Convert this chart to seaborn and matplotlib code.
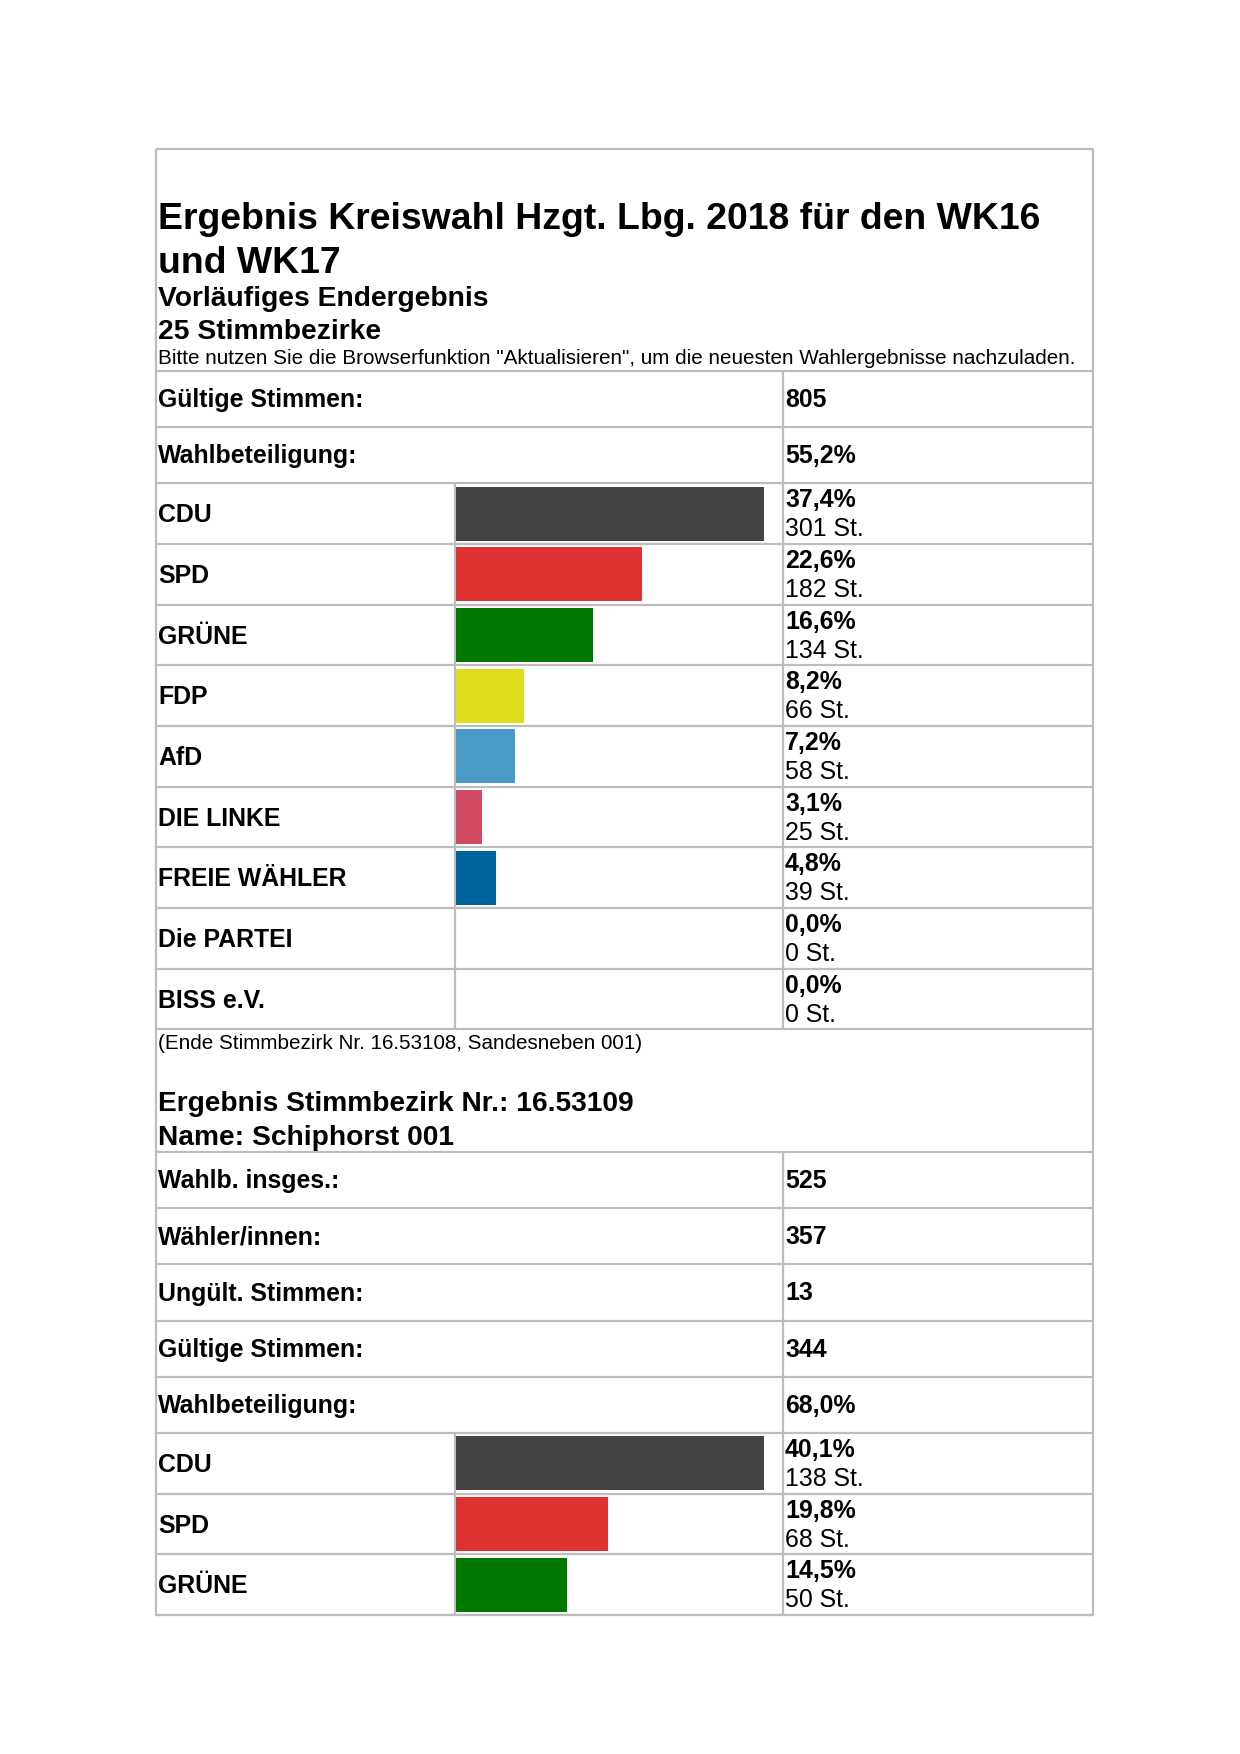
import matplotlib
matplotlib.use("Agg")
import matplotlib.pyplot as plt
import seaborn as sns
import pandas as pd

# ---------------- data ----------------
title_lines = ["Ergebnis Kreiswahl Hzgt. Lbg. 2018 für den WK16", "und WK17"]
subtitle_lines = ["Vorläufiges Endergebnis", "25 Stimmbezirke"]
note = 'Bitte nutzen Sie die Browserfunktion "Aktualisieren", um die neuesten Wahlergebnisse nachzuladen.'

info1_labels = ["Gültige Stimmen:", "Wahlbeteiligung:"]
info1_values = ["805", "55,2%"]
parties1 = ["CDU", "SPD", "GRÜNE", "FDP", "AfD", "DIE LINKE", "FREIE WÄHLER", "Die PARTEI", "BISS e.V."]
pct1 = [37.4, 22.6, 16.6, 8.2, 7.2, 3.1, 4.8, 0.0, 0.0]
votes1 = [301, 182, 134, 66, 58, 25, 39, 0, 0]

footnote = "(Ende Stimmbezirk Nr. 16.53108, Sandesneben 001)"
section2_lines = ["Ergebnis Stimmbezirk Nr.: 16.53109", "Name: Schiphorst 001"]
info2_labels = ["Wahlb. insges.:", "Wähler/innen:", "Ungült. Stimmen:", "Gültige Stimmen:", "Wahlbeteiligung:"]
info2_values = ["525", "357", "13", "344", "68,0%"]
parties2 = ["CDU", "SPD", "GRÜNE"]
pct2 = [40.1, 19.8, 14.5]
votes2 = [138, 68, 50]

party_colors = {
    "CDU": "#444444", "SPD": "#de3333", "GRÜNE": "#007700", "FDP": "#dede1c",
    "AfD": "#4a9bc7", "DIE LINKE": "#cf4a62", "FREIE WÄHLER": "#00649c",
    "Die PARTEI": "#888888", "BISS e.V.": "#888888",
}

# ---------------- layout ----------------
W, H = 1240, 1754
sns.set_theme(style="white")
plt.rcParams["font.family"] = ["Liberation Sans", "DejaVu Sans"]

fig = plt.figure(figsize=(W / 100, H / 100), dpi=100)
fig.patch.set_facecolor("white")
ax = fig.add_axes([0, 0, 1, 1])
ax.set_xlim(0, W)
ax.set_ylim(H, 0)
ax.axis("off")
renderer = fig.canvas.get_renderer()

LINE = "#bdbdbd"
LW = 1.6
X0, X1 = 156, 1093
XBAR = 455
XVAL = 783
TX = 158
BAR_W = 308
ROW_P = 60.67
ROW_I = 56.2


def fit(t, target):
    bb = t.get_window_extent(renderer)
    t.set_fontsize(t.get_fontsize() * target / bb.width)
    return t.get_fontsize()


def txt(x, y, s, size, bold=False, **kw):
    return ax.text(x, y, s, fontsize=size, fontweight="bold" if bold else "normal",
                   va="baseline", ha="left", color="black", **kw)


# titles
t = txt(TX, 229, title_lines[0], 28, True)
ts = fit(t, 883)
txt(TX, 273, title_lines[1], ts, True)
t = txt(TX, 306, subtitle_lines[0], 20, True)
ss = fit(t, 331)
txt(TX, 339, subtitle_lines[1], ss, True)
t = txt(TX, 364, note, 14)
fit(t, 923)

# label size from "Gültige Stimmen:" width
probe = txt(TX, -100, "Gültige Stimmen:", 17, True)
LS = fit(probe, 206)
probe.remove()

# outer box
ax.plot([X0, X1, X1, X0, X0], [149, 149, 1615, 1615, 149], color=LINE, lw=LW, solid_capstyle="butt")


def section(y_top, info_labels, info_values, parties, pct, votes):
    y = y_top
    ax.hlines(y, X0, X1, color=LINE, lw=LW)
    for lab, val in zip(info_labels, info_values):
        c = y + ROW_I / 2
        txt(TX, c + 8, lab, LS, True)
        txt(XVAL + 2, c + 8, val, LS, True)
        ax.vlines(XVAL, y, y + ROW_I, color=LINE, lw=LW)
        y += ROW_I
        ax.hlines(y, X0, X1, color=LINE, lw=LW)
    y_party = y
    for p, v, n in zip(parties, pct, votes):
        c = y + ROW_P / 2
        txt(TX, c + 8.5, p, LS, True)
        txt(XVAL + 2, y + 24, f"{v:.1f}".replace(".", ",") + "%", LS, True)
        txt(XVAL + 2, y + 53, f"{n} St.", LS)
        ax.vlines([XBAR, XVAL], y, y + ROW_P, color=LINE, lw=LW)
        y += ROW_P
        ax.hlines(y, X0, X1, color=LINE, lw=LW)
    # bars via seaborn
    bax = fig.add_axes([(XBAR + 1) / W, 1 - y / H, BAR_W / W, (y - y_party) / H])
    df = pd.DataFrame({"party": parties, "pct": pct})
    sns.barplot(data=df, x="pct", y="party", hue="party", palette=party_colors,
                order=parties, hue_order=parties, orient="h", width=0.89,
                saturation=1, linewidth=0, legend=False, ax=bax)
    bax.set_xlim(0, max(pct))
    bax.set_ylim(len(parties) - 0.5, -0.5)
    bax.axis("off")
    bax.patch.set_alpha(0)
    return y


section(371, info1_labels, info1_values, parties1, pct1, votes1)

t = txt(TX, 1049, footnote, 14)
fit(t, 487)
t = txt(TX, 1111, section2_lines[0], 20, True)
s2 = fit(t, 475)
txt(TX, 1145, section2_lines[1], s2, True)

section(1152, info2_labels, info2_values, parties2, pct2, votes2)

fig.savefig("out.png", dpi=100, facecolor="white")
